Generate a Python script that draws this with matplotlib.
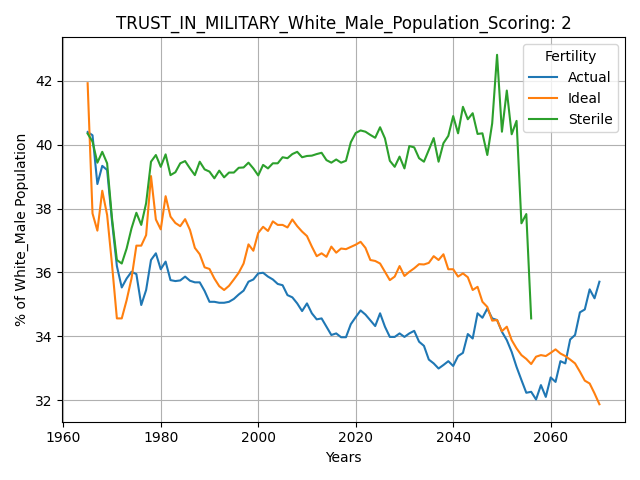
import numpy as np
import matplotlib
matplotlib.use("Agg")
import matplotlib.pyplot as plt

years = list(range(1965, 2071))

actual = [40.40, 40.30, 38.77, 39.34, 39.21, 37.60, 36.20, 35.53, 35.81, 36.02,
          35.95, 34.98, 35.45, 36.39, 36.60, 36.10, 36.34, 35.76, 35.73, 35.75,
          35.87, 35.74, 35.69, 35.69, 35.42, 35.08, 35.08, 35.05, 35.05, 35.08,
          35.17, 35.31, 35.43, 35.71, 35.78, 35.97, 35.99, 35.87, 35.78, 35.64,
          35.60, 35.29, 35.22, 35.03, 34.79, 35.03, 34.72, 34.53, 34.56, 34.30,
          34.04, 34.09, 33.97, 33.97, 34.38, 34.60, 34.81, 34.68, 34.50, 34.32,
          34.72, 34.30, 33.98, 33.98, 34.09, 33.98, 34.09, 34.17, 33.83, 33.70,
          33.27, 33.15, 32.99, 33.10, 33.22, 33.07, 33.38, 33.48, 34.07, 33.93,
          34.72, 34.58, 34.87, 34.56, 34.51, 34.14, 33.88, 33.51, 33.04, 32.63,
          32.23, 32.26, 32.02, 32.47, 32.10, 32.71, 32.57, 33.22, 33.15, 33.90,
          34.04, 34.75, 34.84, 35.47, 35.19, 35.71]

ideal = [41.93, 37.85, 37.31, 38.56, 37.80, 36.25, 34.56, 34.56, 35.13, 35.81,
         36.84, 36.84, 37.17, 39.02, 37.66, 37.35, 38.39, 37.75, 37.55, 37.45,
         37.67, 37.33, 36.77, 36.57, 36.16, 36.11, 35.81, 35.57, 35.45, 35.58,
         35.78, 35.99, 36.28, 36.88, 36.68, 37.24, 37.43, 37.30, 37.60, 37.49,
         37.49, 37.41, 37.66, 37.45, 37.28, 37.14, 36.81, 36.51, 36.60, 36.49,
         36.81, 36.62, 36.75, 36.73, 36.80, 36.87, 36.96, 36.77, 36.39, 36.36,
         36.28, 36.02, 35.76, 35.87, 36.20, 35.89, 36.02, 36.13, 36.26, 36.25,
         36.30, 36.51, 36.39, 36.57, 36.10, 36.10, 35.87, 35.97, 35.85, 35.45,
         35.55, 35.08, 34.92, 34.49, 34.51, 34.16, 34.30, 33.88, 33.62, 33.41,
         33.29, 33.13, 33.36, 33.41, 33.38, 33.48, 33.59, 33.46, 33.38, 33.27,
         33.15, 32.89, 32.61, 32.52, 32.21, 31.87]

sterile_years = list(range(1965, 2057))
sterile = [40.35, 40.10, 39.44, 39.78, 39.42, 37.70, 36.39, 36.28, 36.75, 37.38,
           37.87, 37.49, 38.17, 39.47, 39.68, 39.31, 39.70, 39.05, 39.14, 39.42,
           39.49, 39.26, 39.05, 39.47, 39.23, 39.16, 38.95, 39.19, 38.98, 39.13,
           39.13, 39.28, 39.29, 39.44, 39.26, 39.04, 39.37, 39.26, 39.42, 39.42,
           39.61, 39.58, 39.71, 39.78, 39.61, 39.65, 39.66, 39.71, 39.75, 39.52,
           39.44, 39.54, 39.44, 39.50, 40.08, 40.37, 40.45, 40.41, 40.31, 40.22,
           40.55, 40.20, 39.50, 39.31, 39.63, 39.26, 39.96, 39.92, 39.58, 39.47,
           39.84, 40.21, 39.47, 40.05, 40.28, 40.90, 40.36, 41.19, 40.80, 40.99,
           40.34, 40.36, 39.68, 40.67, 42.82, 40.41, 41.70, 40.33, 40.75, 37.54,
           37.83, 34.56]

fig, ax = plt.subplots(figsize=(6.4, 4.8), dpi=100)
ax.plot(years, actual, label="Actual")
ax.plot(years, ideal, label="Ideal")
ax.plot(sterile_years, sterile, label="Sterile")

ax.set_title("TRUST_IN_MILITARY_White_Male_Population_Scoring: 2")
ax.set_xlabel("Years")
ax.set_ylabel("% of White_Male Population")
ax.grid(True)
ax.legend(title="Fertility", loc="upper right")

fig.tight_layout()
fig.savefig("out.png")
